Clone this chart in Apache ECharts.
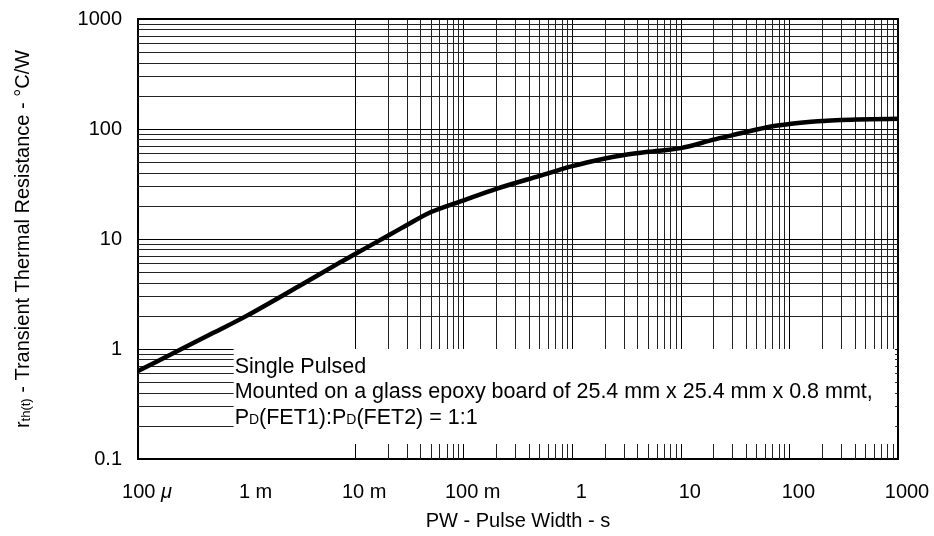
<!DOCTYPE html>
<html>
<head>
<meta charset="utf-8">
<script src="https://cdn.jsdelivr.net/npm/echarts@6/dist/echarts.min.js"></script>
<style>
  html, body { margin: 0; padding: 0; background: #fff; }
  #chart { width: 934px; height: 536px; }
</style>
</head>
<body>
<div id="chart"></div>
<script>
// ---- data ----
const pulseWidth = [1e-4, 2e-4, 5e-4, 1e-3, 3e-3, 7e-3, 1e-2, 2e-2, 3e-2, 5e-2, 0.1, 0.2, 0.5, 1, 2, 3, 5, 10, 20, 30, 50, 70, 100, 150, 200, 300, 1000];
const rth        = [0.63, 0.89, 1.41, 2.0, 3.7, 6.0, 7.3, 10.7, 13.4, 17.6, 22.5, 28.6, 37.5, 46, 54, 58, 62, 67, 80, 88, 99, 106, 111, 115.5, 118, 121, 124];

const xTickLabels = ['100 {mu|μ}', '1 m', '10 m', '100 m', '1', '10', '100', '1000'];
const yTickLabels = ['0.1', '1', '10', '100', '1000'];

const xDecades = [-4, -3, -2, -1, 0, 1, 2, 3];
const yDecades = [-1, 0, 1, 2, 3];

const noteLines = [
  'Single Pulsed',
  'Mounted on a glass epoxy board of 25.4 mm x 25.4 mm x 0.8 mmt,',
  'P{d|D}(FET1):P{d|D}(FET2) = 1:1'
];
const noteBox = { x0: 7.6e-4, x1: 940, y0: 0.137, y1: 1 };

const xName = 'PW - Pulse Width - s';
const yName = 'r{sub|th(t)} - Transient Thermal Resistance - °C/W';

// ---- gridline values (decades + 2..9 minors) ----
function gridValues(decs) {
  const out = [];
  for (let i = 0; i < decs.length; i++) {
    const base = Math.pow(10, decs[i]);
    out.push({ v: base, major: true });
    if (i < decs.length - 1) {
      for (let m = 2; m <= 9; m++) out.push({ v: m * base, major: false });
    }
  }
  return out;
}
const gridLineData = [];
gridValues(xDecades).forEach(g => gridLineData.push({ xAxis: g.v, lineStyle: { color: g.major ? '#000' : '#222', width: 1, type: 'solid' } }));
gridValues(yDecades).forEach(g => gridLineData.push({ yAxis: g.v, lineStyle: { color: g.major ? '#000' : '#222', width: 1, type: 'solid' } }));

const FONT = "'Liberation Sans', Arial, sans-serif";

const chart = echarts.init(document.getElementById('chart'), null, { renderer: 'canvas' });
chart.setOption({
  animation: false,
  backgroundColor: '#fff',
  textStyle: { fontFamily: FONT, color: '#000' },
  grid: { left: 138, right: 36, top: 19, bottom: 74, show: true, borderColor: '#000', borderWidth: 2, backgroundColor: 'transparent' },
  xAxis: {
    type: 'log', logBase: 10, min: 1e-4, max: 1000, interval: 1,
    name: xName, nameLocation: 'middle', nameGap: 52,
    nameTextStyle: { fontFamily: FONT, fontSize: 20, color: '#000' },
    axisLine: { show: false }, axisTick: { show: false }, splitLine: { show: false },
    axisLabel: {
      margin: 23, fontFamily: FONT, fontSize: 20, color: '#000', padding: [0, 0, 0, 18],
      formatter: v => { const i = Math.round(Math.log10(v)) + 4; return xTickLabels[i] ?? ''; },
      rich: { mu: { fontFamily: FONT, fontSize: 20, fontStyle: 'italic', color: '#000' } }
    }
  },
  yAxis: {
    type: 'log', logBase: 10, min: 0.1, max: 1000, interval: 1,
    name: yName, nameLocation: 'middle', nameGap: 105,
    nameTextStyle: {
      fontFamily: FONT, fontSize: 20, color: '#000',
      rich: { sub: { fontFamily: FONT, fontSize: 13, color: '#000', verticalAlign: 'bottom', padding: [6, 0, 0, 0] } }
    },
    axisLine: { show: false }, axisTick: { show: false }, splitLine: { show: false },
    axisLabel: {
      margin: 16, fontFamily: FONT, fontSize: 20, color: '#000',
      formatter: v => { const i = Math.round(Math.log10(v)) + 1; return yTickLabels[i] ?? ''; }
    }
  },
  series: [
    {
      type: 'line', data: [], silent: true, z: 1,
      markLine: {
        silent: true, z: 1, symbol: ['none', 'none'], animation: false,
        label: { show: false },
        lineStyle: { type: 'solid' },
        emphasis: { disabled: true },
        data: gridLineData
      }
    },
    {
      type: 'line', data: [], silent: true, z: 2,
      markArea: {
        silent: true, z: 2, animation: false,
        itemStyle: { color: '#fff', opacity: 1 },
        label: {
          show: true, position: 'insideTopLeft', distance: 1, padding: [4, 0, 0, 0],
          fontFamily: FONT, fontSize: 21.5, lineHeight: 25.5, color: '#000',
          rich: { d: { fontFamily: FONT, fontSize: 14, lineHeight: 25.5, color: '#000', verticalAlign: 'bottom', padding: [0, 0, 3, 0] } }
        },
        data: [[{ name: noteLines.join('\n'), coord: [noteBox.x0, noteBox.y1] }, { coord: [noteBox.x1, noteBox.y0] }]]
      }
    },
    {
      type: 'line', z: 5, smooth: 0.3, showSymbol: false, symbol: 'none',
      lineStyle: { color: '#000', width: 4.5 },
      data: pulseWidth.map((x, i) => [x, rth[i]])
    }
  ]
});
</script>
</body>
</html>
